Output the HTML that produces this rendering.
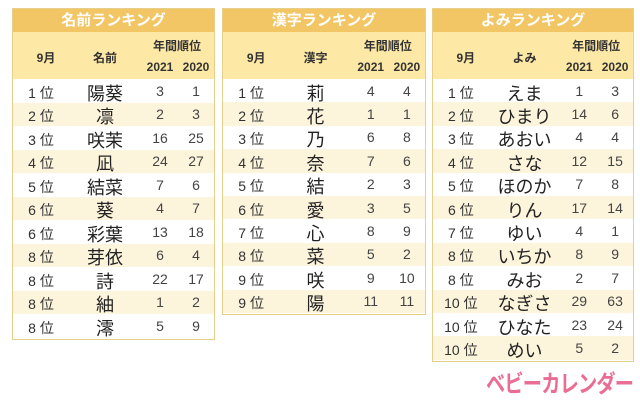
<!DOCTYPE html>
<html><head><meta charset="utf-8"><style>
body{margin:0;width:640px;height:404px;background:#fff;position:relative;overflow:hidden;font-family:"Liberation Sans","Noto Sans CJK JP",sans-serif;}
.tbl{position:absolute;border:1.5px solid #e6cf8a;box-sizing:border-box;background:#fff;}
.ttl{height:23px;background:#f3c665;color:#fff;font-weight:bold;font-size:15px;text-align:center;line-height:23px;}
.hdr{height:47px;background:#fde8a6;position:relative;font-weight:bold;font-size:12px;color:#333;}
.hdr span{position:absolute;transform:translateX(-50%);white-space:nowrap;}
.row{position:relative;color:#333;}
.row.c{background:#fdf4dc;}
.row span{position:absolute;transform:translateX(-50%);white-space:nowrap;}
.rk{font-size:14px;}
.nm{font-size:18px;color:#222;}
.nu{font-size:14px;color:#444;}
.logo{position:absolute;left:486px;top:364px;font-size:24px;font-weight:bold;color:#ea6d93;letter-spacing:-1px;white-space:nowrap;transform:scaleX(0.8);transform-origin:left top;}
</style></head><body>
<div id="root"></div>
<div class="logo">ベビーカレンダー</div>
<script>
const t1Title="名前ランキング", t1Col="名前";
const t1Rank=["1 位","2 位","3 位","4 位","5 位","6 位","6 位","8 位","8 位","8 位","8 位"];
const t1Name=["陽葵","凛","咲茉","凪","結菜","葵","彩葉","芽依","詩","紬","澪"];
const t1y2021=[3,2,16,24,7,4,13,6,22,1,5];
const t1y2020=[1,3,25,27,6,7,18,4,17,2,9];
const t2Title="漢字ランキング", t2Col="漢字";
const t2Rank=["1 位","2 位","3 位","4 位","5 位","6 位","7 位","8 位","9 位","9 位"];
const t2Name=["莉","花","乃","奈","結","愛","心","菜","咲","陽"];
const t2y2021=[4,1,6,7,2,3,8,5,9,11];
const t2y2020=[4,1,8,6,3,5,9,2,10,11];
const t3Title="よみランキング", t3Col="よみ";
const t3Rank=["1 位","2 位","3 位","4 位","5 位","6 位","7 位","8 位","8 位","10 位","10 位","10 位"];
const t3Name=["えま","ひまり","あおい","さな","ほのか","りん","ゆい","いちか","みお","なぎさ","ひなた","めい"];
const t3y2021=[1,14,4,12,7,17,4,8,2,29,23,5];
const t3y2020=[3,6,4,15,8,14,1,9,7,63,24,2];
const tables=[
 {x:12,w:203,rh:23.5,title:t1Title,col:t1Col,rank:t1Rank,name:t1Name,a:t1y2021,b:t1y2020,id:'name-ranking'},
 {x:222,w:204,rh:23.4,title:t2Title,col:t2Col,rank:t2Rank,name:t2Name,a:t2y2021,b:t2y2020,id:'kanji-ranking'},
 {x:432,w:202,rh:23.4,title:t3Title,col:t3Col,rank:t3Rank,name:t3Name,a:t3y2021,b:t3y2020,id:'yomi-ranking'}
];
const root=document.getElementById('root');
tables.forEach(t=>{
 const n=t.rank.length;
 const d=document.createElement('div');d.className='tbl';
 
 
 d.style.left=t.x+'px';d.style.top='8px';d.style.width=t.w+'px';
 d.style.height=(23+47+n*t.rh+3)+'px';
 const f=t.w/203;
 let h='<div class="ttl">'+t.title+'</div>';
 h+='<div class="hdr"><span style="left:'+33*f+'px;top:17px">9月</span><span style="left:'+92*f+'px;top:17px">'+t.col+'</span><span style="left:'+164*f+'px;top:5px">年間順位</span><span style="left:'+147*f+'px;top:28px">2021</span><span style="left:'+183*f+'px;top:28px">2020</span></div>';
 for(let i=0;i<n;i++){
  const c=(i%2===1)?' c':'';
  const ty=(t.rh-20)/2;
  h+='<div class="row'+c+'" style="height:'+t.rh+'px"><span class="rk" style="left:'+28*f+'px;top:'+(ty+2)+'px">'+t.rank[i]+'</span><span class="nm" style="left:'+92*f+'px;top:'+(ty-1)+'px">'+t.name[i]+'</span><span class="nu" style="left:'+147*f+'px;top:'+(ty+2)+'px">'+t.a[i]+'</span><span class="nu" style="left:'+183*f+'px;top:'+(ty+2)+'px">'+t.b[i]+'</span></div>';
 }
 d.innerHTML=h;root.appendChild(d);
});
</script>
</body></html>
